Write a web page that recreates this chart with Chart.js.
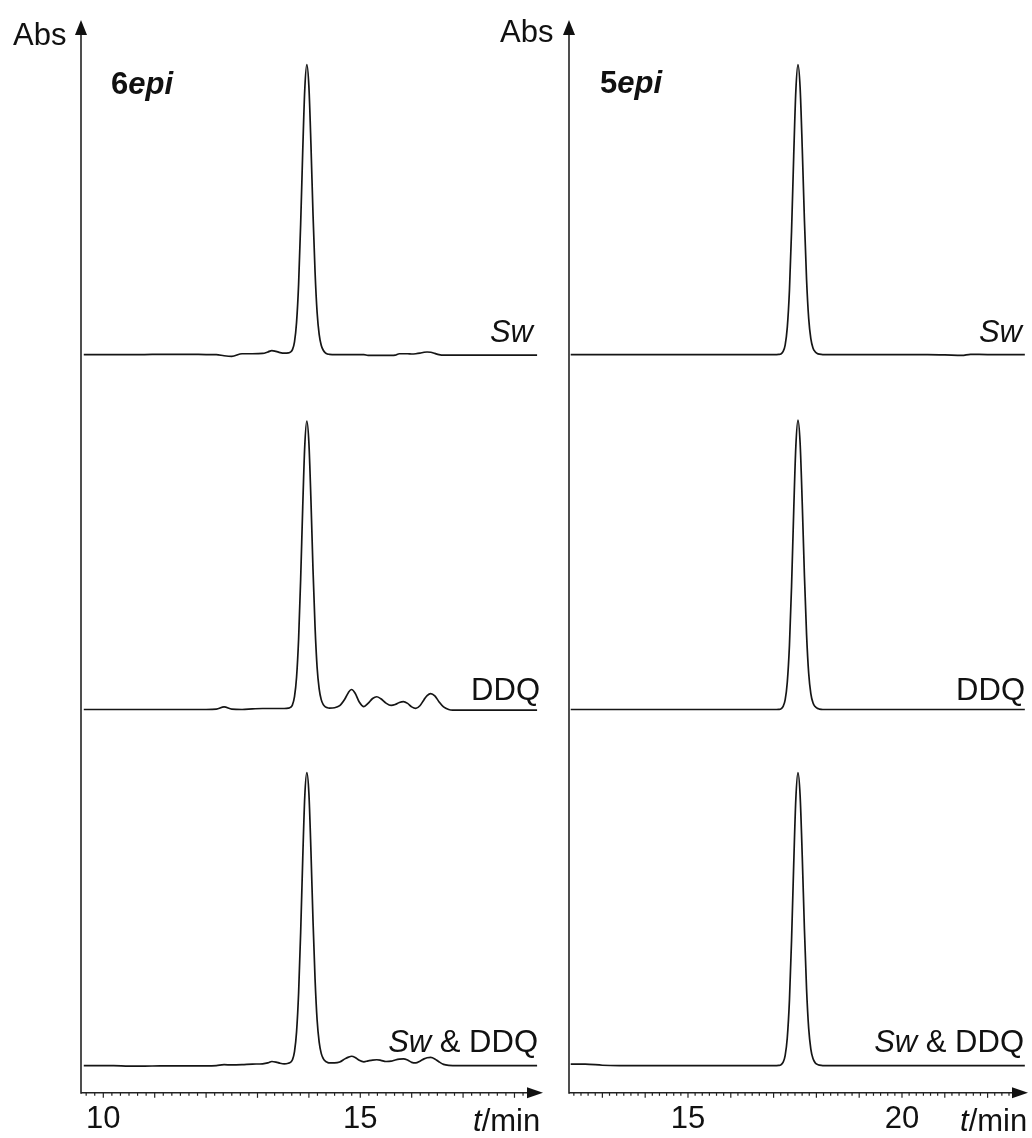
<!DOCTYPE html>
<html>
<head>
<meta charset="utf-8">
<script src="https://cdn.jsdelivr.net/npm/chart.js@4.4.0/dist/chart.umd.min.js"></script>
<style>
  html, body { margin: 0; padding: 0; background: #fff; }
  #wrap { position: relative; width: 1032px; height: 1138px; overflow: hidden;
          font-family: 'Liberation Sans', Arial, sans-serif; color: #111; }
  #wrap canvas { position: absolute; top: 0; }
  .lbl { position: absolute; font-size: 31px; line-height: 31px; white-space: nowrap; }
</style>
</head>
<body>
<div id="wrap">
  <canvas id="chartLeft" width="556" height="1146" style="left:0"></canvas>
  <canvas id="chartRight" width="476" height="1146" style="left:556px"></canvas>

  <div class="lbl" style="left:13px;top:19px">Abs</div>
  <div class="lbl" style="left:111px;top:68px"><b>6<i>epi</i></b></div>
  <div class="lbl" style="right:499px;top:316px"><i>Sw</i></div>
  <div class="lbl" style="right:492px;top:674px">DDQ</div>
  <div class="lbl" style="right:494px;top:1026px"><i>Sw</i> &amp; DDQ</div>
  <div class="lbl" style="left:473px;top:1105px"><i>t</i>/min</div>

  <div class="lbl" style="left:500px;top:16px">Abs</div>
  <div class="lbl" style="left:600px;top:67px"><b>5<i>epi</i></b></div>
  <div class="lbl" style="right:10px;top:316px"><i>Sw</i></div>
  <div class="lbl" style="right:7px;top:674px">DDQ</div>
  <div class="lbl" style="right:8px;top:1026px"><i>Sw</i> &amp; DDQ</div>
  <div class="lbl" style="left:960px;top:1105px"><i>t</i>/min</div>
</div>

<script>
// ---- 6epi runs: retention time (min) and absorbance (main peak ~ 100) ----
const leftTimes = [
  9.62, 9.9, 10.2, 10.5, 10.8, 11.1, 11.4, 11.7, 12.0, 12.2,
  12.35, 12.5, 12.7, 12.9, 13.1, 13.2, 13.28, 13.36, 13.44, 13.52,
  13.60, 13.64, 13.68, 13.72, 13.76, 13.80, 13.84, 13.88, 13.92, 13.96,
  14.00, 14.04, 14.08, 14.12, 14.16, 14.20, 14.24, 14.28, 14.32, 14.36,
  14.40, 14.5, 14.6, 14.7, 14.77, 14.83, 14.9, 14.98, 15.07, 15.15,
  15.24, 15.32, 15.4, 15.5, 15.6, 15.68, 15.76, 15.84, 15.92, 16.0,
  16.08, 16.16, 16.24, 16.3, 16.37, 16.45, 16.53, 16.62, 16.72, 16.8,
  17.0, 17.3, 17.6, 17.9, 18.2, 18.44
];
const leftSw = [
  0, 0, 0, 0, 0, 0.1, 0.1, 0.1, 0, 0,
  -0.4, -0.6, 0.3, 0.3, 0.4, 0.9, 1.4, 1.1, 0.7, 0.5,
  0.6, 0.85, 1.7, 4.4, 11.1, 24.3, 45.1, 70.1, 91.5, 100,
  92.5, 72.5, 48.5, 28.5, 14.5, 7.0, 3.2, 1.5, 0.6, 0.2,
  0.1, 0, 0, 0, 0, 0, 0, 0, 0, -0.3,
  -0.3, -0.3, -0.3, -0.3, -0.3, -0.2, 0.3, 0.3, 0.3, 0.2,
  0.3, 0.5, 0.8, 0.9, 0.8, 0.4, 0, -0.2, -0.2, -0.2,
  -0.2, -0.2, -0.2, -0.2, -0.2, -0.2
];
const leftDDQ = [
  0, 0, 0, 0, 0, 0, 0, 0, 0, 0.1,
  0.9, 0.1, 0, 0.2, 0.35, 0.35, 0.35, 0.35, 0.35, 0.35,
  0.45, 0.7, 1.6, 4.4, 11.1, 24.3, 45.0, 69.8, 91.0, 99.5,
  92.0, 72.2, 48.3, 28.4, 14.5, 7.1, 3.4, 1.7, 0.9, 0.6,
  0.5, 0.6, 1.3, 3.6, 5.9, 6.9, 5.6, 2.6, 1.0, 2.1,
  3.8, 4.4, 3.7, 2.2, 1.4, 1.7, 2.4, 2.7, 2.1, 0.9,
  0.4, 1.3, 3.4, 4.8, 5.5, 4.7, 2.7, 0.9, 0.0, -0.2,
  -0.2, -0.2, -0.2, -0.2, -0.2, -0.2
];
const leftSwDDQ = [
  0, 0, 0, -0.2, -0.2, -0.1, -0.1, -0.1, -0.1, 0,
  0.3, 0.2, 0.3, 0.5, 0.6, 0.9, 1.4, 1.2, 0.8, 0.6,
  0.8, 1.1, 2.0, 4.8, 11.6, 25.0, 46.0, 71.1, 92.8, 101,
  93.9, 74.0, 50.0, 29.8, 15.7, 8.1, 4.2, 2.4, 1.5, 1.1,
  0.9, 0.9, 1.2, 2.3, 2.9, 3.2, 2.8, 1.8, 1.3, 1.6,
  1.9, 2.0, 1.8, 1.4, 1.5, 1.9, 2.2, 2.3, 1.9, 1.1,
  0.9, 1.5, 2.3, 2.7, 2.8, 2.3, 1.3, 0.4, 0.05, 0,
  0, 0, 0, 0, 0, 0
];

// ---- 5epi runs ----
const rightTimes = [
  12.26, 12.6, 13.0, 13.4, 13.8, 14.2, 14.6, 15.0, 15.4, 15.8,
  16.2, 16.5, 16.8, 17.0, 17.07, 17.12, 17.17, 17.22, 17.27, 17.32,
  17.37, 17.42, 17.47, 17.52, 17.57, 17.62, 17.67, 17.72, 17.77, 17.82,
  17.87, 17.92, 17.97, 18.02, 18.07, 18.15, 18.3, 18.6, 19.0, 19.4,
  19.8, 20.2, 20.6, 21.0, 21.4, 21.6, 22.0, 22.4, 22.87
];
const rightSw = [
  0, 0, 0, 0, 0, 0, 0, 0, 0, 0,
  0, 0, 0, 0, 0, 0.05, 0.2, 1.0, 3.3, 9.4,
  22.0, 42.7, 68.5, 91.0, 100, 92.0, 71.0, 46.5, 26.0, 12.5,
  5.5, 2.3, 1.0, 0.4, 0.15, 0, 0, 0, 0, 0,
  0, 0, 0, -0.1, -0.3, 0.1, 0, 0, 0
];
const rightDDQ = [
  0, 0, 0, 0, 0, 0, 0, 0, 0, 0,
  0, 0, 0, 0, 0, 0.05, 0.2, 1.0, 3.3, 9.4,
  22.0, 42.6, 68.4, 90.8, 99.8, 91.8, 70.9, 46.4, 26.0, 12.5,
  5.5, 2.3, 1.0, 0.4, 0.15, 0, 0, 0, 0, 0,
  0, 0, 0, 0, 0, 0, 0, 0, 0
];
const rightSwDDQ = [
  0.5, 0.5, 0.1, 0, 0, 0, 0, 0, 0, 0,
  0, 0, 0, 0, 0, 0.05, 0.25, 1.1, 3.4, 9.6,
  22.4, 43.3, 69.3, 92.0, 101, 93.0, 72.0, 47.2, 26.5, 12.8,
  5.7, 2.4, 1.0, 0.4, 0.15, 0, 0, 0, 0, 0,
  0, 0, 0, 0, 0, 0, 0, 0, 0
];

// labelled minutes on each time axis
const leftTickLabels = [10, 15];
const rightTickLabels = [15, 20];

// vertical stacking of the three runs in each panel (absorbance units)
const stackOffsets = { Sw: 245.2, DDQ: 122.8, SwDDQ: 0 };

const absRange = { min: -9.4, max: 360.6 };
const leftRange = { min: 9.566, max: 18.555 };
const rightRange = { min: 12.22, max: 22.944 };

function toPoints(times, values, offset) {
  return times.map((t, i) => ({ x: t, y: values[i] + offset }));
}

function trace(times, values, offset) {
  return {
    data: toPoints(times, values, offset),
    borderColor: '#151515',
    borderWidth: 1.7,
    pointRadius: 0,
    fill: false,
    cubicInterpolationMode: 'monotone'
  };
}

// axis lines with arrowheads and 10-second tick marks
const arrowAxes = {
  id: 'arrowAxes',
  afterDraw(chart) {
    const { ctx, chartArea: a, scales: { x } } = chart;
    ctx.save();
    ctx.strokeStyle = '#222';
    ctx.fillStyle = '#111';
    ctx.lineWidth = 1.6;
    ctx.beginPath();
    ctx.moveTo(a.left, a.bottom + 1);
    ctx.lineTo(a.left, a.top + 8);
    ctx.stroke();
    ctx.beginPath();
    ctx.moveTo(a.left, a.bottom);
    ctx.lineTo(a.right - 8, a.bottom);
    ctx.stroke();

    ctx.beginPath();
    ctx.moveTo(a.left, a.top);
    ctx.lineTo(a.left - 6, a.top + 15);
    ctx.lineTo(a.left + 6, a.top + 15);
    ctx.closePath();
    ctx.fill();
    ctx.beginPath();
    ctx.moveTo(a.right, a.bottom);
    ctx.lineTo(a.right - 16, a.bottom - 5.5);
    ctx.lineTo(a.right - 16, a.bottom + 5.5);
    ctx.closePath();
    ctx.fill();

    ctx.lineWidth = 1.2;
    x.ticks.forEach(t => {
      const px = x.getPixelForValue(t.value);
      if (px <= a.left + 2 || px >= a.right - 16) return;
      const major = Math.abs(t.value - Math.round(t.value)) < 1e-6;
      ctx.beginPath();
      ctx.moveTo(px, a.bottom);
      ctx.lineTo(px, a.bottom + (major ? 5 : 3));
      ctx.stroke();
    });
    ctx.restore();
  }
};

function makeChart(id, times, sw, ddq, mix, range, labels, padding) {
  return new Chart(document.getElementById(id), {
    type: 'line',
    data: {
      datasets: [
        trace(times, sw, stackOffsets.Sw),
        trace(times, ddq, stackOffsets.DDQ),
        trace(times, mix, stackOffsets.SwDDQ)
      ]
    },
    options: {
      responsive: false,
      animation: false,
      devicePixelRatio: 1,
      events: [],
      layout: { padding },
      plugins: { legend: { display: false }, tooltip: { enabled: false } },
      scales: {
        x: {
          type: 'linear',
          min: range.min,
          max: range.max,
          grid: { display: false, drawTicks: false },
          border: { display: false },
          afterBuildTicks(scale) {
            const ticks = [];
            for (let k = Math.ceil(scale.min * 6); k <= Math.floor(scale.max * 6); k++) {
              ticks.push({ value: k / 6 });
            }
            scale.ticks = ticks;
          },
          ticks: {
            autoSkip: false,
            maxRotation: 0,
            minRotation: 0,
            padding: 8,
            color: '#111',
            font: { family: "'Liberation Sans', Arial, sans-serif", size: 31 },
            callback: (v) => labels.some(l => Math.abs(l - v) < 1e-6) ? String(Math.round(v)) : ''
          }
        },
        y: {
          type: 'linear',
          min: absRange.min,
          max: absRange.max,
          display: false
        }
      }
    },
    plugins: [arrowAxes]
  });
}

makeChart('chartLeft', leftTimes, leftSw, leftDDQ, leftSwDDQ, leftRange, leftTickLabels,
  { left: 81, right: 13, top: 20, bottom: 0 });
makeChart('chartRight', rightTimes, rightSw, rightDDQ, rightSwDDQ, rightRange, rightTickLabels,
  { left: 13, right: 4, top: 20, bottom: 0 });
</script>
</body>
</html>
